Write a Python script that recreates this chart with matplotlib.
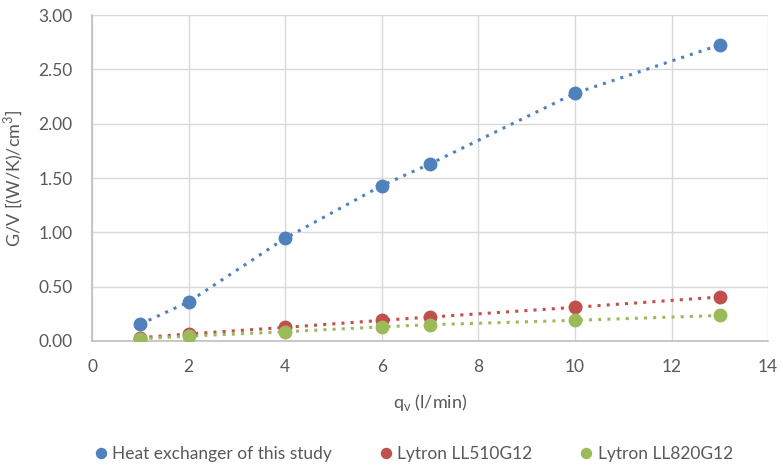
import matplotlib.pyplot as plt
import matplotlib.ticker as mticker

plt.rcParams['font.family'] = ['Lato', 'DejaVu Sans']

# flow rate (l/min)
qv = [1, 2, 4, 6, 7, 10, 13]
# G/V [(W/K)/cm3]
hx_study = [0.155, 0.36, 0.945, 1.43, 1.63, 2.28, 2.725]
ll510 = [0.03, 0.065, 0.125, 0.19, 0.22, 0.31, 0.405]
ll820 = [0.02, 0.045, 0.085, 0.13, 0.15, 0.19, 0.235]

labels = ['Heat exchanger of this study', 'Lytron LL510G12', 'Lytron LL820G12']
colors = ['#4F81BD', '#C0504D', '#9BBB59']

fig = plt.figure(figsize=(7.83, 4.65), dpi=100)
ax = fig.add_axes([0.1175, 0.2667, 0.8635, 0.701])

for ys, lab, c in zip([hx_study, ll510, ll820], labels, colors):
    ax.plot(qv, ys, linestyle=(0, (1, 2)), linewidth=2.2, color=c, zorder=2)
    ax.plot(qv, ys, 'o', markersize=9, color=c, label=lab, zorder=3)

ax.set_xlim(0, 14)
ax.set_ylim(0, 3)
ax.xaxis.set_major_locator(mticker.MultipleLocator(2))
ax.yaxis.set_major_locator(mticker.MultipleLocator(0.5))
ax.yaxis.set_major_formatter(mticker.FormatStrFormatter('%.2f'))

ax.grid(True, color='#D9D9D9', linewidth=1)
ax.set_axisbelow(True)
for s in ['top', 'right']:
    ax.spines[s].set_visible(False)
for s in ['left', 'bottom']:
    ax.spines[s].set_color('#BFBFBF')
    ax.spines[s].set_linewidth(1.2)
ax.tick_params(length=0, labelsize=12.5, labelcolor='#595959')
ax.tick_params(axis='x', pad=13)
ax.tick_params(axis='y', pad=14)

ax.set_xlabel('q$_\\mathregular{v}$ (l/min)', fontsize=13, color='#595959', labelpad=12)
ax.set_ylabel('G/V [(W/K)/cm$^\\mathregular{3}$]', fontsize=13, color='#595959', labelpad=9)

leg = fig.legend(loc='center', bbox_to_anchor=(0.527, 11 / 465), ncol=3, frameon=False,
                 fontsize=12.5, handletextpad=0.15, columnspacing=2.6, handlelength=1.0,
                 markerscale=0.8)
for t in leg.get_texts():
    t.set_color('#595959')

fig.savefig('out.png', dpi=100)
